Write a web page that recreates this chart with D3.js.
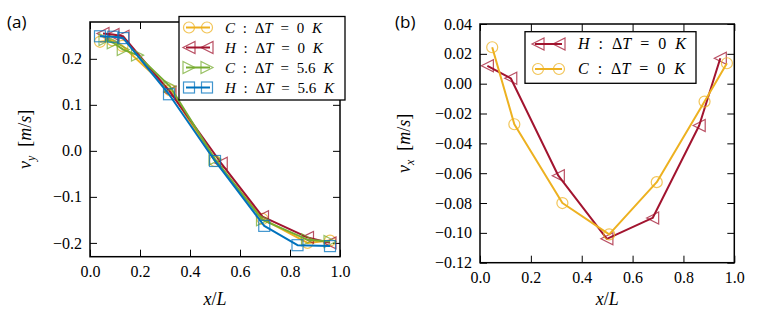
<!DOCTYPE html>
<html><head><meta charset="utf-8">
<script src="https://cdn.jsdelivr.net/npm/d3@7"></script>
<style>
body{margin:0;background:#fff;}
svg{display:block;}
svg text.serif, svg .tick text{font-family:'Liberation Serif','Tinos','Times New Roman','DejaVu Serif','Noto Serif','FreeSerif',serif !important;}
</style></head>
<body><svg id="c" width="763" height="327"></svg>
<script>
// ---------- data ----------
// panel (a): v_y vs x/L
const aC0x = [0.04, 0.09, 0.13, 0.32, 0.50, 0.69, 0.87, 0.96];
const aC0y = [0.237, 0.240, 0.228, 0.132, -0.022, -0.148, -0.200, -0.195];
const aH0x = [0.052, 0.092, 0.132, 0.32, 0.525, 0.69, 0.87, 0.96];
const aH0y = [0.255, 0.253, 0.249, 0.128, -0.027, -0.143, -0.188, -0.200];
const aC56x = [0.06, 0.093, 0.133, 0.19, 0.32, 0.50, 0.69, 0.87, 0.96];
const aC56y = [0.242, 0.235, 0.220, 0.208, 0.140, -0.018, -0.150, -0.193, -0.197];
const aH56x = [0.04, 0.093, 0.133, 0.316, 0.50, 0.697, 0.83, 0.96];
const aH56y = [0.249, 0.248, 0.245, 0.123, -0.022, -0.163, -0.205, -0.207];
// panel (b): v_x vs x/L
const bH0x = [0.029, 0.121, 0.308, 0.499, 0.679, 0.862, 0.945];
const bH0y = [0.012, 0.0036, -0.0617, -0.104, -0.090, -0.028, 0.017];
const bC0x = [0.048, 0.135, 0.324, 0.508, 0.695, 0.883, 0.971];
const bC0y = [0.0244, -0.0272, -0.080, -0.101, -0.066, -0.012, 0.0137];
// ticks
const xTicks = [0.0, 0.2, 0.4, 0.6, 0.8, 1.0];
const aYTicks = [-0.2, -0.1, 0.0, 0.1, 0.2];
const bYTicks = [-0.12, -0.10, -0.08, -0.06, -0.04, -0.02, 0.00, 0.02, 0.04];
const legendA = ["C0", "H0", "C56", "H56"];

const COL = {orange:"#EDB120", red:"#A2142F", green:"#77AC30", blue:"#0072BD"};
const svg = d3.select("#c");

function zip(xs, ys){ return xs.map((x,i)=>[x, ys[i]]); }

function marker(g, type, x, y, color){
  const s = 6;
  let el;
  if(type==="circle") el = g.append("circle").attr("cx",x).attr("cy",y).attr("r",5.5);
  else if(type==="square") el = g.append("rect").attr("x",x-5.5).attr("y",y-5.5).attr("width",11).attr("height",11);
  else if(type==="left") el = g.append("path").attr("d",`M${x-s},${y}L${x+s},${y-s}L${x+s},${y+s}Z`);
  else if(type==="right") el = g.append("path").attr("d",`M${x+s},${y}L${x-s},${y-s}L${x-s},${y+s}Z`);
  el.attr("fill","none").attr("stroke",color).attr("stroke-width",1.2).attr("stroke-opacity",0.75);
}

function panel(o){
  const g = svg.append("g");
  const x = d3.scaleLinear().domain([0,1]).range([o.L, o.R]);
  const y = d3.scaleLinear().domain(o.yDom).range([o.B, o.T]);
  const ax = (gen, tr) => g.append("g").attr("transform",tr).call(gen).call(s=>s.select(".domain").remove())
      .call(s=>s.selectAll(".tick line").attr("stroke","#000").attr("stroke-width",1));
  ax(d3.axisBottom(x).tickValues(xTicks).tickSize(-7).tickPadding(9).tickFormat(d3.format(".1f")), `translate(0,${o.B})`);
  ax(d3.axisTop(x).tickValues(xTicks).tickSize(-7).tickFormat(""), `translate(0,${o.T})`);
  ax(d3.axisLeft(y).tickValues(o.yTicks).tickSize(-7).tickPadding(8).tickFormat(d3.format(o.yFmt)), `translate(${o.L},0)`);
  ax(d3.axisRight(y).tickValues(o.yTicks).tickSize(-7).tickFormat(""), `translate(${o.R},0)`);
  g.selectAll(".tick text").attr("class","serif").attr("font-size",16).attr("fill","#000");
  const line = d3.line().x(d=>x(d[0])).y(d=>y(d[1]));
  o.series.forEach(s=>{
    const pts = zip(s.x, s.y);
    g.append("path").attr("d",line(pts)).attr("fill","none").attr("stroke",s.color).attr("stroke-width",2).attr("stroke-linejoin","round");
    pts.forEach(p=>marker(g, s.m, x(p[0]), y(p[1]), s.color));
  });
  g.append("rect").attr("x",o.L).attr("y",o.T).attr("width",o.R-o.L).attr("height",o.B-o.T)
    .attr("fill","none").attr("stroke","#000").attr("stroke-width",1.5);
  const xl = g.append("text").attr("class","serif").attr("x",(o.L+o.R)/2).attr("y",305).attr("text-anchor","middle")
    .attr("font-size",18);
  xl.append("tspan").attr("font-style","italic").text("x");
  xl.append("tspan").text("/");
  xl.append("tspan").attr("font-style","italic").text("L");
  const yl = g.append("text").attr("class","serif").attr("transform",`translate(${o.yLabX},${(o.T+o.B)/2}) rotate(-90)`)
    .attr("text-anchor","middle").attr("font-size",18);
  yl.append("tspan").attr("font-style","italic").text("v");
  yl.append("tspan").attr("font-style","italic").attr("font-size",12).attr("dy",4).text(o.sub);
  yl.append("tspan").attr("dy",-4).text("\u2002[");
  yl.append("tspan").attr("font-style","italic").text("m");
  yl.append("tspan").text("/");
  yl.append("tspan").attr("font-style","italic").text("s");
  yl.append("tspan").text("]");
  svg.append("text").attr("x",o.letX).attr("y",28).attr("font-family","'Open Sans',sans-serif")
    .attr("font-size",17).text(o.letter);
  return {x,y};
}

function legend(o){
  const g = svg.append("g");
  g.append("rect").attr("x",o.x0).attr("y",o.y0).attr("width",o.x1-o.x0).attr("height",o.y1-o.y0)
    .attr("fill","#fff").attr("stroke","#000").attr("stroke-width",1.3);
  o.items.forEach((it,i)=>{
    const cy = o.rowY + i*o.dy;
    g.append("line").attr("x1",o.m1-3).attr("x2",o.m2+3).attr("y1",cy).attr("y2",cy).attr("stroke",it.color).attr("stroke-width",2);
    marker(g, it.m, o.m1, cy, it.color);
    marker(g, it.m, o.m2, cy, it.color);
    const t = g.append("text").attr("class","serif").attr("x",o.tx).attr("y",cy+5).attr("font-size",o.fs)
      .attr("style",`word-spacing:${o.ws}px`);
    t.append("tspan").attr("font-style","italic").text(it.who);
    t.append("tspan").text(" : \u0394");
    t.append("tspan").attr("font-style","italic").text("T");
    t.append("tspan").text(" = " + it.dt + " ");
    t.append("tspan").attr("font-style","italic").text("K");
  });
}

const seriesA = {
  C0:{x:aC0x,y:aC0y,color:COL.orange,m:"circle",who:"C",dt:"0"},
  H0:{x:aH0x,y:aH0y,color:COL.red,m:"left",who:"H",dt:"0"},
  C56:{x:aC56x,y:aC56y,color:COL.green,m:"right",who:"C",dt:"5.6"},
  H56:{x:aH56x,y:aH56y,color:COL.blue,m:"square",who:"H",dt:"5.6"}
};

panel({L:90,R:340,T:22,B:256.7,yDom:[-0.23,0.28],yTicks:aYTicks,yFmt:".1f",
  series:legendA.map(k=>seriesA[k]), yLabX:31, sub:"y", letter:"(a)", letX:7});
legend({x0:179,x1:345,y0:16.5,y1:100,rowY:27.5,dy:20,m1:189,m2:207,tx:225,fs:15,ws:4,
  items:legendA.map(k=>seriesA[k])});

const sbH = {x:bH0x,y:bH0y,color:COL.red,m:"left",who:"H",dt:"0"};
const sbC = {x:bC0x,y:bC0y,color:COL.orange,m:"circle",who:"C",dt:"0"};
panel({L:480,R:734.3,T:24,B:262.7,yDom:[-0.12,0.04],yTicks:bYTicks,yFmt:".2f",
  series:[sbH,sbC], yLabX:410, sub:"x", letter:"(b)", letX:395});
legend({x0:525,x1:696,y0:31.7,y1:83.3,rowY:44,dy:25,m1:538,m2:559,tx:578,fs:16,ws:5,
  items:[sbH,sbC]});
</script></body></html>
